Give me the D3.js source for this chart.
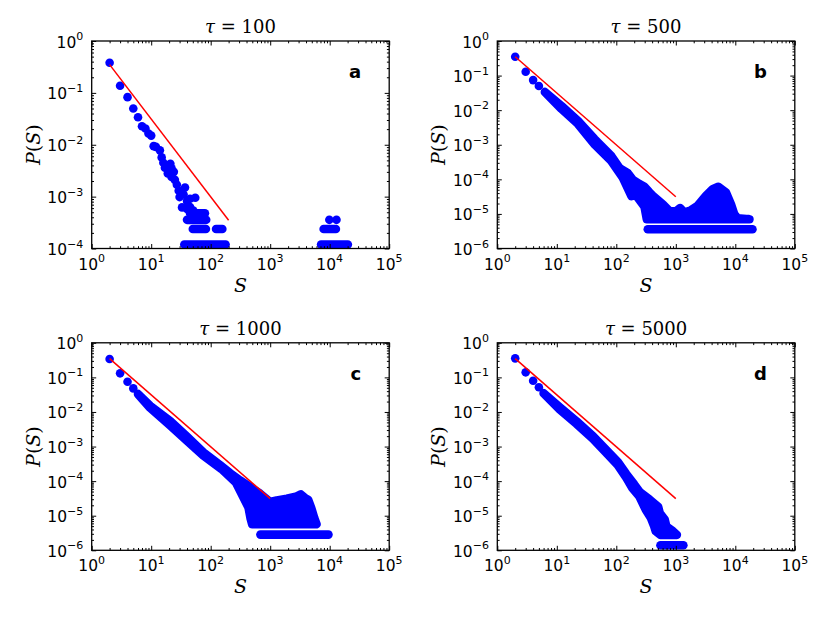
<!DOCTYPE html>
<meta charset="utf-8">
<style>
  body { margin: 0; background: #fff; }
  .tlab { font-family: "DejaVu Sans", sans-serif; font-size: 15.5px; fill: #000; }
  .math { font-family: "DejaVu Serif", serif; fill: #000; }
  .letter { font-family: "DejaVu Sans", sans-serif; font-weight: bold; font-size: 18px; }
  .blob { fill: #0000ff; stroke: #0000ff; stroke-linejoin: round; stroke-linecap: round; }
  .fit { fill: none; stroke: #ff0000; stroke-width: 1.5px; }
  .tick line { stroke: #000; stroke-width: 1px; }
</style>
<body>
<script src="https://d3js.org/d3.v7.min.js"></script>
<script>

// panel texts
var tauValues = ["100", "500", "1000", "5000"];
var letters = ["a", "b", "c", "d"];
var yFloorExp = [-4, -6, -6, -6];
var xTickExp = [0, 1, 2, 3, 4, 5];

// panel a : single points [S, P] and horizontal runs of points [Sfrom, Sto, P]
var ptsA = [[2,0.381],[3,0.137],[4,0.0828],[5,0.050],[6,0.034],[7,0.0228],[8,0.0206],[9,0.0165],
  [10,0.0150],[11,0.0094],[12,0.0091],[14,0.0078],[15,0.0057],[16,0.0045],[17,0.0036],[18,0.0040],
  [19,0.0028],[21,0.0043],[22,0.0035],[22,0.0024],[24,0.0030],[25,0.0021],[27,0.0017],[29,0.0013],
  [30,0.00098],[33,0.00062],[35,0.0011],[37,0.0015],[40,0.00082],[40,0.00058],[45,0.00063],
  [51,0.00054],[55,0.00095],[45,0.00091],[9860,3.57e-4],[13000,3.57e-4]];
var rowsA = [[36,178,1.19e-4],[50,83,2.38e-4],[123,157,2.38e-4],[40,84,3.57e-4],[45,80,4.76e-4],
  [7160,20200,1.19e-4],[7910,12700,2.38e-4]];
var cloudA = [];
var fitA = [[2,0.35],[200,3.5e-4]];

// panel b : outline of the dense cloud of points (upper edge, then lower edge back)
var ptsB = [[2,0.35],[3,0.129],[4,0.074],[5,0.050]];
var cloudB = [[6.3,0.0334],[12,0.0132],[22.7,0.0049],[43.3,1.45e-3],[82.5,4.7e-4],[113.6,2.1e-4],
  [156.5,1.5e-4],[189.7,9.7e-5],[245.7,7.26e-5],[297.9,6.07e-5],[361.3,4.18e-5],[410.3,3.33e-5],
  [603.4,1.91e-5],[781.4,1.22e-5],[1012,1.18e-5],[1180,1.47e-5],[1393,1.10e-5],[1804,1.28e-5],
  [2327,1.71e-5],[3217,3.33e-5],[4150,5.20e-5],[5171,6.07e-5],[6960,4.18e-5],[8440,1.91e-5],
  [9585,9.84e-6],[10890,7.5e-6],[17290,7.05e-6],
  [326,7.05e-6],[298,1.62e-5],[214.6,3.49e-5],[180,3.26e-5],[127.5,1.15e-4],[82.5,3.4e-4],
  [43.3,1.02e-3],[22.7,0.0040],[12,0.0109]];
var rowsB = [[338,19410,3.62e-6]];
var fitB = [[2,0.35],[1000,3.13e-5]];

// panel c
var ptsC = [[2,0.34],[3,0.131],[4,0.075],[5,0.048]];
var cloudC = [[6,0.033],[9.6,0.0150],[20.7,5.5e-3],[39.6,1.95e-3],[75.3,6.8e-4],[143.8,2.9e-4],
  [211.8,1.7e-4],[312,1.05e-4],[430,7.26e-5],[677,4.33e-5],[997,2.49e-5],[1293,2.77e-5],
  [1903,3.1e-5],[2806,3.61e-5],[3276,4.13e-5],[3900,3.2e-5],[4345,2.9e-5],[4877,1.71e-5],
  [5480,8.8e-6],[6010,5.68e-6],
  [497,5.68e-6],[469,8.2e-6],[433,1.71e-5],[351,3.54e-5],[267,8.98e-5],[152,2.25e-4],[75.3,5.5e-4],
  [39.6,1.5e-3],[20.7,4.1e-3],[9.6,0.0132]];
var rowsC = [[685,9530,2.84e-6]];
var fitC = [[2,0.35],[1000,3.13e-5]];

// panel d
var ptsD = [[2,0.355],[3,0.14],[4,0.080],[5,0.052]];
var cloudD = [[6,0.035],[11.2,0.0138],[21.4,5.4e-3],[40.6,2.0e-3],[77.2,6.3e-4],[106,3.6e-4],
  [147,1.6e-4],[200,8.0e-5],[246,4.9e-5],[365,2.9e-5],[505,1.82e-5],[537,1.19e-5],[652,7.7e-6],
  [696,4.83e-6],[890,3.6e-6],[1043,2.8e-6],
  [552,2.8e-6],[460,3.58e-6],[433,5.0e-6],[380,8.8e-6],[313,1.49e-5],[243,3.66e-5],[187.5,6.2e-5],
  [147,1.27e-4],[106,2.9e-4],[77.2,5.2e-4],[40.6,1.68e-3],[21.4,4.55e-3],[11.2,0.0118]];
var rowsD = [[552,1340,1.4e-6]];
var fitD = [[2,0.35],[1000,3.13e-5]];

var panelData = [
  { pts: ptsA, rows: rowsA, cloud: cloudA, fit: fitA },
  { pts: ptsB, rows: rowsB, cloud: cloudB, fit: fitB },
  { pts: ptsC, rows: rowsC, cloud: cloudC, fit: fitC },
  { pts: ptsD, rows: rowsD, cloud: cloudD, fit: fitD }
];

// layout
var width = 830, height = 623, R = 4.3;
var pw = 297.5, ph = 207.5;
var origins = [[91.7, 41], [497.3, 41], [91.7, 342.8], [497.3, 342.8]];

var svg = d3.select("body").append("svg")
  .attr("width", width)
  .attr("height", height);
svg.append("rect").attr("width", width).attr("height", height).attr("fill", "#fff");

// "10" with a raised exponent (true minus sign, as in the original)
function powLabel(t, e) {
  t.append("tspan").text("10");
  t.append("tspan").attr("dy", -7.5).attr("font-size", "11px")
    .text(e < 0 ? "\u2212" + (-e) : e);
}

panelData.forEach(function (pd, i) {
  var x = d3.scaleLog().domain([1, 1e5]).range([0, pw]);
  var y = d3.scaleLog().domain([Math.pow(10, yFloorExp[i]), 1]).range([ph, 0]);

  var g = svg.append("g")
    .attr("transform", "translate(" + origins[i][0] + "," + origins[i][1] + ")");

  g.append("clipPath").attr("id", "clip" + i)
    .append("rect").attr("width", pw).attr("height", ph);

  var plot = g.append("g").attr("clip-path", "url(#clip" + i + ")");

  var line = d3.line()
    .x(function (d) { return x(d[0]); })
    .y(function (d) { return y(d[1]); });
  var outline = d3.line()
    .x(function (d) { return x(d[0]); })
    .y(function (d) { return y(d[1]); })
    .curve(d3.curveLinearClosed);

  // dense cloud of points, drawn as its outline with a stroke of one marker diameter
  if (pd.cloud.length) {
    plot.append("path")
      .datum(pd.cloud)
      .attr("class", "blob")
      .style("stroke-width", (2 * R) + "px")
      .attr("d", outline);
  }

  // runs of points at the same level
  plot.selectAll(".row")
    .data(pd.rows)
    .enter().append("path")
    .attr("class", "blob row")
    .style("stroke-width", (2 * R) + "px")
    .attr("d", function (r) { return line([[r[0], r[2]], [r[1], r[2]]]); });

  plot.selectAll("circle")
    .data(pd.pts)
    .enter().append("circle")
    .attr("cx", function (d) { return x(d[0]); })
    .attr("cy", function (d) { return y(d[1]); })
    .attr("r", R)
    .attr("fill", "#0000ff");

  plot.append("path")
    .datum(pd.fit)
    .attr("class", "fit")
    .attr("d", line);

  // ticks, inside on all four sides
  var xMajor = xTickExp.map(function (e) { return Math.pow(10, e); });
  var yMajor = d3.range(yFloorExp[i], 1).map(function (e) { return Math.pow(10, e); });
  function minors(lo, hi) {
    var out = [];
    for (var e = lo; e < hi; e++)
      for (var m = 2; m <= 9; m++) out.push(m * Math.pow(10, e));
    return out;
  }
  var xMinor = minors(0, 5), yMinor = minors(yFloorExp[i], 0);

  function addAxis(axisFn, scale, vals, size, tr) {
    var a = g.append("g").attr("transform", tr)
      .call(axisFn(scale).tickValues(vals).tickSize(-size).tickFormat(""));
    a.select(".domain").remove();
  }
  [[xMajor, 4.5], [xMinor, 2.3]].forEach(function (t) {
    addAxis(d3.axisBottom, x, t[0], t[1], "translate(0," + ph + ")");
    addAxis(d3.axisTop, x, t[0], t[1], "translate(0,0)");
  });
  [[yMajor, 4.5], [yMinor, 2.3]].forEach(function (t) {
    addAxis(d3.axisLeft, y, t[0], t[1], "translate(0,0)");
    addAxis(d3.axisRight, y, t[0], t[1], "translate(" + pw + ",0)");
  });

  g.append("rect")
    .attr("width", pw).attr("height", ph)
    .attr("fill", "none").attr("stroke", "#000").attr("stroke-width", 1.3);

  // tick labels 10^n
  xTickExp.forEach(function (e) {
    var t = g.append("text").attr("class", "tlab")
      .attr("x", x(Math.pow(10, e))).attr("y", ph + 21)
      .attr("text-anchor", "middle");
    powLabel(t, e);
  });
  d3.range(yFloorExp[i], 1).forEach(function (e) {
    var t = g.append("text").attr("class", "tlab")
      .attr("x", -8.4).attr("y", y(Math.pow(10, e)) + 6.5)
      .attr("text-anchor", "end");
    powLabel(t, e);
  });

  // title
  var title = g.append("text").attr("class", "math")
    .attr("x", pw / 2).attr("y", -8)
    .attr("text-anchor", "middle").attr("font-size", "18px");
  title.append("tspan").attr("font-style", "italic").text("\u03c4");
  title.append("tspan").text(" = " + tauValues[i]);

  // panel letter
  g.append("text").attr("class", "letter")
    .attr("x", pw - 28).attr("y", 37)
    .attr("text-anchor", "end").text(letters[i]);

  // axis labels
  g.append("text").attr("class", "math")
    .attr("x", pw / 2).attr("y", ph + 43)
    .attr("text-anchor", "middle").attr("font-size", "19px")
    .attr("font-style", "italic").text("S");

  var yl = g.append("text").attr("class", "math")
    .attr("transform", "translate(-52," + (ph / 2) + ") rotate(-90)")
    .attr("text-anchor", "middle").attr("font-size", "19px");
  yl.append("tspan").attr("font-style", "italic").text("P");
  yl.append("tspan").text("(");
  yl.append("tspan").attr("font-style", "italic").text("S");
  yl.append("tspan").text(")");
});

</script>
</body>
